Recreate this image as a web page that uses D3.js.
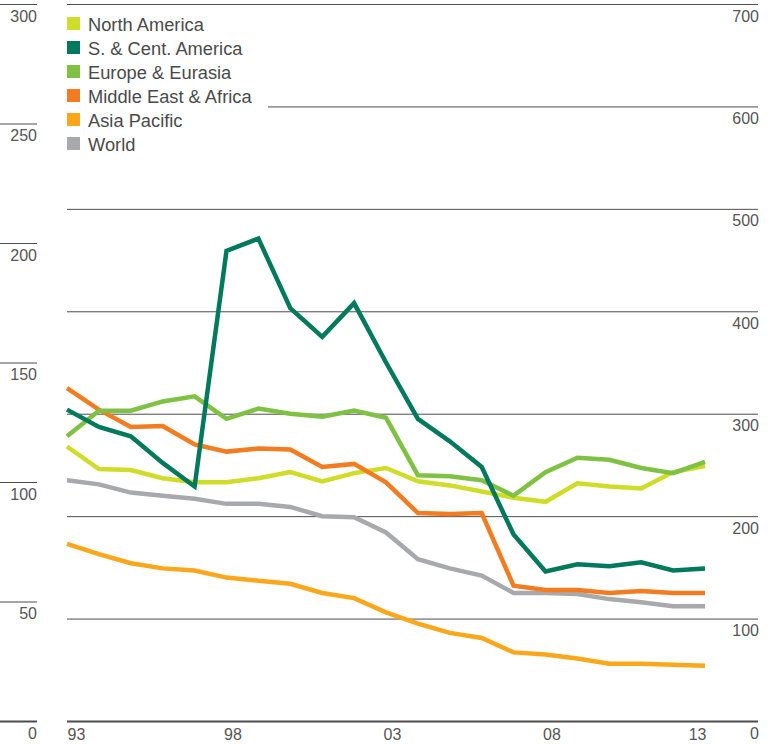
<!DOCTYPE html>
<html>
<head>
<meta charset="utf-8">
<script src="https://cdn.jsdelivr.net/npm/d3@7"></script>
<style>
    body { margin: 0; background: #fff; }
    svg { display: block; font-family: "Liberation Sans", Arial, sans-serif; }
    .tick text { fill: #555; font-size: 16px; }
    .legend text { fill: #4a4a4a; font-size: 18.3px; }
</style>
</head>
<body>
<svg></svg>
<script>
let years = [1993, 1994, 1995, 1996, 1997, 1998, 1999, 2000, 2001, 2002, 2003,
             2004, 2005, 2006, 2007, 2008, 2009, 2010, 2011, 2012, 2013]
let xTickYears = [1993, 1998, 2003, 2008, 2013]

let northAmerica  = [268, 246, 245, 237, 233, 233, 237, 243, 234, 242, 247, 234, 230, 224, 218, 214, 232, 229, 227, 243, 249]
let sCentAmerica  = [304, 287, 278, 252, 229, 459, 471, 403, 375, 408, 350, 295, 273, 248, 182, 146, 153, 151, 155, 147, 149]
let europeEurasia = [278, 303, 303, 312, 317, 295, 305, 300, 297, 303, 296, 240, 239, 235, 220, 243, 257, 255, 247, 242, 253]
let middleEastAfrica = [325, 304, 287, 288, 270, 263, 266, 265, 248, 251, 233, 203, 202, 203, 132, 128, 128, 125, 127, 125, 125]
let asiaPacific   = [173, 163, 154, 149, 147, 140, 137, 134, 125, 120, 106, 95, 86, 81, 67, 65, 61, 56, 56, 55, 54]
let world         = [235, 231, 223, 220, 217, 212, 212, 209, 200, 199, 184, 158, 149, 142, 125, 125, 124, 119, 116, 112, 112]

let leftTicks = [0, 50, 100, 150, 200, 250, 300]
let rightTicks = [0, 100, 200, 300, 400, 500, 600, 700]

// legend order; drawing order is separate so S. & Cent. America sits on top
let series = [
    { name: "North America", values: northAmerica, color: "#cfdd28" },
    { name: "S. & Cent. America", values: sCentAmerica, color: "#00795c" },
    { name: "Europe & Eurasia", values: europeEurasia, color: "#7fc243" },
    { name: "Middle East & Africa", values: middleEastAfrica, color: "#f37c21" },
    { name: "Asia Pacific", values: asiaPacific, color: "#fba71c" },
    { name: "World", values: world, color: "#a7a9ac" }
]
let drawOrder = [5, 4, 0, 3, 2, 1]

let width = 777
let height = 744
let plotLeft = 67
let plotRight = 758
let plotTop = 4
let plotBottom = 721

let svg = d3.select("svg")
    .attr("width", width)
    .attr("height", height)

let xScale = d3.scaleLinear()
    .domain([1993, 2013])
    .range([plotLeft, 705])

let yScale = d3.scaleLinear()
    .domain([0, 700])
    .range([plotBottom, plotTop])

let yLeftScale = d3.scaleLinear()
    .domain([0, 300])
    .range([plotBottom, plotTop])

// right-hand gridlines + labels
let rightAxis = d3.axisRight(yScale)
    .tickValues(rightTicks)
    .tickSize(plotRight - plotLeft)
    .tickFormat(d3.format("d"))

let gRight = svg.append("g")
    .attr("transform", "translate(" + plotLeft + ",0)")
    .call(rightAxis)
gRight.select(".domain").remove()
gRight.selectAll(".tick line")
    .attr("stroke", "#4d4d4d")
    .attr("stroke-width", (d) => d === 0 ? 2 : 1)
    .attr("x1", (d) => d === 600 ? 268 - plotLeft : 0)
gRight.selectAll(".tick text")
    .attr("x", plotRight - plotLeft + 1)
    .attr("dy", 17)
    .attr("text-anchor", "end")

// left-hand short ticks + labels
let leftAxis = d3.axisRight(yLeftScale)
    .tickValues(leftTicks)
    .tickSize(37)
    .tickFormat(d3.format("d"))

let gLeft = svg.append("g")
    .call(leftAxis)
gLeft.select(".domain").remove()
gLeft.selectAll(".tick line")
    .attr("stroke", "#4d4d4d")
    .attr("stroke-width", (d) => d === 0 ? 2 : 1)
gLeft.selectAll(".tick text")
    .attr("x", 37)
    .attr("dy", 17)
    .attr("text-anchor", "end")

// year labels
let xAxis = d3.axisBottom(xScale)
    .tickValues(xTickYears)
    .tickSize(0)
    .tickPadding(0)
    .tickFormat((d) => String(d).slice(2))

let gX = svg.append("g")
    .attr("transform", "translate(0," + plotBottom + ")")
    .call(xAxis)
gX.select(".domain").remove()
gX.selectAll(".tick text")
    .attr("y", 19)
    .attr("dy", 0)
    .attr("x", (d) => d === 1993 ? 0 : (d === 2013 ? 1 : -3))
    .attr("text-anchor", (d) => d === 2013 ? "end" : "start")

// lines
let line = d3.line()
    .x((d, i) => xScale(years[i]))
    .y((d) => yScale(d))

svg.append("g")
    .selectAll("path")
    .data(drawOrder.map((i) => series[i]))
    .enter()
    .append("path")
    .attr("d", (s) => line(s.values))
    .attr("fill", "none")
    .attr("stroke", (s) => s.color)
    .attr("stroke-width", 4.5)

// legend
let legend = svg.append("g")
    .attr("class", "legend")

let rows = legend.selectAll("g")
    .data(series)
    .enter()
    .append("g")
    .attr("transform", (s, i) => "translate(" + plotLeft + "," + (17 + i * 24) + ")")

rows.append("rect")
    .attr("width", 13)
    .attr("height", 13)
    .attr("fill", (s) => s.color)

rows.append("text")
    .attr("x", 21)
    .attr("y", 13.5)
    .text((s) => s.name)
</script>
</body>
</html>
